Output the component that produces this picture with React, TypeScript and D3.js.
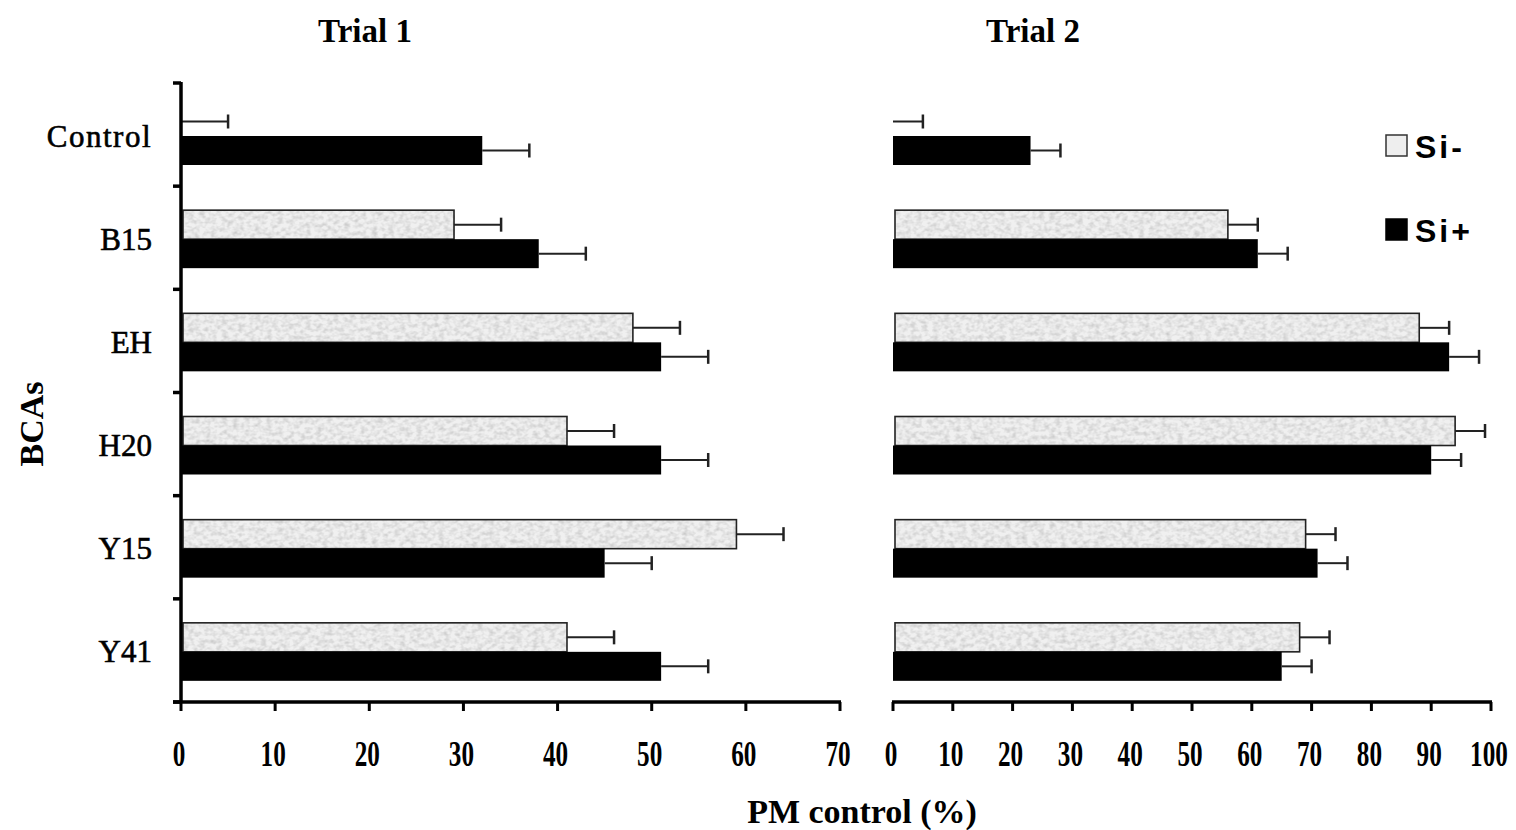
import { useEffect, useRef } from "react";
import * as d3 from "d3";

const categories = ["Control", "B15", "EH", "H20", "Y15", "Y41"];
const series = ["Si-", "Si+"];

// Trial 1 values (%), error = bar half-length of SE
const trial1SiMinus = [0, 29, 48, 41, 59, 41];
const trial1SiPlus = [32, 38, 51, 51, 45, 51];
const trial1ErrMinus = [5, 5, 5, 5, 5, 5];
const trial1ErrPlus = [5, 5, 5, 5, 5, 5];

// Trial 2 values (%)
const trial2SiMinus = [0, 56, 88, 94, 69, 68];
const trial2SiPlus = [23, 61, 93, 90, 71, 65];
const trial2ErrMinus = [5, 5, 5, 5, 5, 5];
const trial2ErrPlus = [5, 5, 5, 5, 5, 5];

const ticks1 = [0, 10, 20, 30, 40, 50, 60, 70];
const ticks2 = [0, 10, 20, 30, 40, 50, 60, 70, 80, 90, 100];

const W = 1516;
const H = 830;
const serif = "'Liberation Serif', 'Times New Roman', serif";
const sans = "'Liberation Sans', Arial, sans-serif";

export default function App() {
  const svgRef = useRef<SVGSVGElement>(null);

  useEffect(() => {
    const svg = d3.select(svgRef.current);
    svg.selectAll("*").remove();

    // texture for the light bars
    const defs = svg.append("defs");
    const filter = defs.append("filter").attr("id", "speckle").attr("x", 0).attr("y", 0).attr("width", 1).attr("height", 1);
    filter
      .append("feTurbulence")
      .attr("type", "fractalNoise")
      .attr("baseFrequency", "0.18 0.25")
      .attr("numOctaves", 2)
      .attr("seed", 4);
    filter
      .append("feColorMatrix")
      .attr("type", "matrix")
      .attr("values", "0 0 0 0 0.55  0 0 0 0 0.55  0 0 0 0 0.55  1.6 0 0 0 -0.6");

    const y = d3.scaleBand<string>().domain(categories).range([83, 702]);
    const sub = d3.scaleBand<string>().domain(series).range([24, 82]);
    const axisY = 702;

    const panels = [
      {
        x: d3.scaleLinear().domain([0, 70]).range([181, 840]),
        ticks: ticks1,
        minus: trial1SiMinus,
        plus: trial1SiPlus,
        errMinus: trial1ErrMinus,
        errPlus: trial1ErrPlus,
        title: "Trial 1",
        titleX: 365,
        yAxis: true,
      },
      {
        x: d3.scaleLinear().domain([0, 100]).range([893, 1491]),
        ticks: ticks2,
        minus: trial2SiMinus,
        plus: trial2SiPlus,
        errMinus: trial2ErrMinus,
        errPlus: trial2ErrPlus,
        title: "Trial 2",
        titleX: 1033,
        yAxis: false,
      },
    ];

    panels.forEach((p) => {
      const g = svg.append("g");
      const x = p.x;
      const [x0, x1] = x.range();

      // title
      g.append("text")
        .attr("x", p.titleX)
        .attr("y", 42)
        .attr("text-anchor", "middle")
        .style("font-family", serif)
        .style("font-weight", "bold")
        .style("font-size", "33px")
        .text(p.title);

      const rows = categories.map((c, i) => ({
        c,
        minus: p.minus[i],
        plus: p.plus[i],
        em: p.errMinus[i],
        ep: p.errPlus[i],
      }));

      rows.forEach((r) => {
        const by = y(r.c)!;
        // Si- bar
        const yM = by + sub("Si-")!;
        const hM = sub.bandwidth();
        if (r.minus > 0) {
          g.append("rect")
            .attr("x", x(0) + 2)
            .attr("y", yM)
            .attr("width", x(r.minus) - x(0) - 2)
            .attr("height", hM)
            .attr("fill", "#f0f0f0");
          g.append("rect")
            .attr("x", x(0) + 2)
            .attr("y", yM)
            .attr("width", x(r.minus) - x(0) - 2)
            .attr("height", hM)
            .attr("fill", "#fff")
            .attr("filter", "url(#speckle)");
          g.append("rect")
            .attr("x", x(0) + 2)
            .attr("y", yM)
            .attr("width", x(r.minus) - x(0) - 2)
            .attr("height", hM)
            .attr("fill", "none")
            .attr("stroke", "#222")
            .attr("stroke-width", 1.6);
        }
        // Si+ bar
        const yP = by + sub("Si+")!;
        g.append("rect")
          .attr("x", x(0))
          .attr("y", yP)
          .attr("width", x(r.plus) - x(0))
          .attr("height", sub.bandwidth())
          .attr("fill", "#000");

        // error bars
        const errs = [
          { v: r.minus, e: r.em, cy: yM + hM / 2 },
          { v: r.plus, e: r.ep, cy: yP + sub.bandwidth() / 2 },
        ];
        errs.forEach((d) => {
          g.append("line")
            .attr("x1", x(d.v))
            .attr("x2", x(d.v + d.e))
            .attr("y1", d.cy)
            .attr("y2", d.cy)
            .attr("stroke", "#222")
            .attr("stroke-width", 2);
          g.append("line")
            .attr("x1", x(d.v + d.e))
            .attr("x2", x(d.v + d.e))
            .attr("y1", d.cy - 7)
            .attr("y2", d.cy + 7)
            .attr("stroke", "#222")
            .attr("stroke-width", 2.5);
        });
      });

      // x axis
      g.append("line")
        .attr("x1", p.yAxis ? x0 - 8 : x0 - 1)
        .attr("x2", x1 + 1)
        .attr("y1", axisY)
        .attr("y2", axisY)
        .attr("stroke", "#000")
        .attr("stroke-width", 3.5);
      p.ticks.forEach((t) => {
        g.append("line")
          .attr("x1", x(t))
          .attr("x2", x(t))
          .attr("y1", axisY)
          .attr("y2", axisY + 9)
          .attr("stroke", "#000")
          .attr("stroke-width", 3);
        g.append("text")
          .attr("transform", `translate(${x(t) - 2},766) scale(0.7,1)`)
          .attr("text-anchor", "middle")
          .style("font-family", serif)
          .style("font-weight", "bold")
          .style("font-size", "36px")
          .text(t);
      });

      if (p.yAxis) {
        g.append("line")
          .attr("x1", x0)
          .attr("x2", x0)
          .attr("y1", 82)
          .attr("y2", axisY)
          .attr("stroke", "#000")
          .attr("stroke-width", 3.5);
        const bounds = categories.map((c) => y(c)!).concat([y.range()[1]]);
        bounds.forEach((b) => {
          g.append("line")
            .attr("x1", x0 - 8)
            .attr("x2", x0)
            .attr("y1", b)
            .attr("y2", b)
            .attr("stroke", "#000")
            .attr("stroke-width", 3.5);
        });
        categories.forEach((c) => {
          g.append("text")
            .attr("x", 152)
            .attr("y", y(c)! + y.bandwidth() / 2 + 12)
            .attr("text-anchor", "end")
            .style("font-family", serif)
            .style("font-size", "31px")
            .style("letter-spacing", c === "Control" ? "1.5px" : "0px")
            .attr("stroke", "#000")
            .attr("stroke-width", 0.6)
            .text(c);
        });
      }
    });

    // axis titles
    svg
      .append("text")
      .attr("x", 862)
      .attr("y", 823)
      .attr("text-anchor", "middle")
      .style("font-family", serif)
      .style("font-weight", "bold")
      .style("font-size", "34px")
      .text("PM control (%)");

    svg
      .append("text")
      .attr("transform", "translate(43,424) rotate(-90)")
      .attr("text-anchor", "middle")
      .style("font-family", serif)
      .style("font-weight", "bold")
      .style("font-size", "34px")
      .text("BCAs");

    // legend
    const legend = svg.append("g");
    const items = [
      { label: "Si-", fill: "#eeeeee", stroke: "#333", y: 135 },
      { label: "Si+", fill: "#000", stroke: "#000", y: 219 },
    ];
    items.forEach((it) => {
      legend
        .append("rect")
        .attr("x", 1386)
        .attr("y", it.y)
        .attr("width", 21)
        .attr("height", 21)
        .attr("fill", it.fill)
        .attr("stroke", it.stroke)
        .attr("stroke-width", 1.5);
      legend
        .append("text")
        .attr("x", 1415)
        .attr("y", it.y + 23)
        .style("font-family", sans)
        .style("font-weight", "bold")
        .style("font-size", "32px")
        .style("letter-spacing", "3px")
        .text(it.label);
    });
  }, []);

  return (
    <svg
      ref={svgRef}
      width={W}
      height={H}
      style={{ position: "absolute", left: 0, top: 0, background: "#fff" }}
    ></svg>
  );
}
